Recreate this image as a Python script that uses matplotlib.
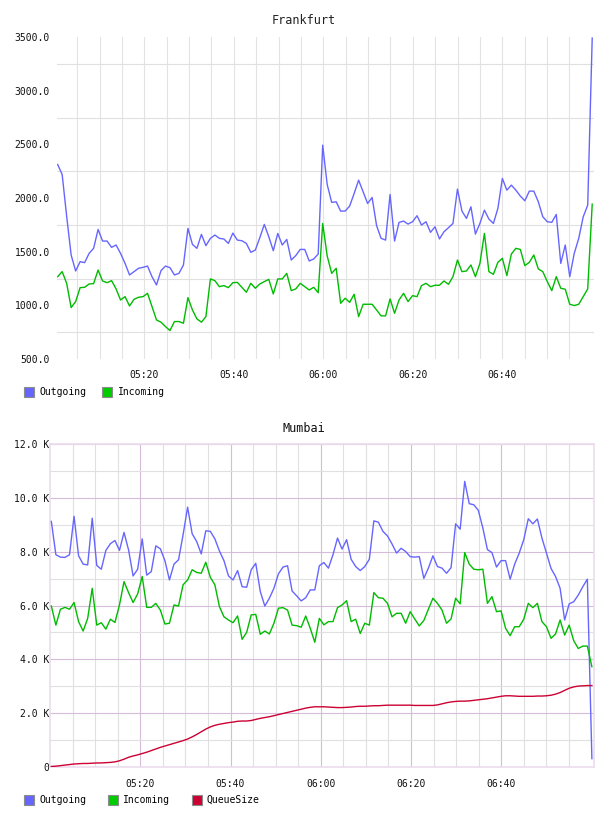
import numpy as np
import matplotlib
matplotlib.use("Agg")
import matplotlib.pyplot as plt
from matplotlib.ticker import FixedLocator, FuncFormatter
from matplotlib.lines import Line2D

# ---------------- data ----------------
series_names = ["Outgoing", "Incoming", "QueueSize"]
time_ticks = [20, 40, 60, 80, 100]          # minutes after 05:00
time_labels = ["05:20", "05:40", "06:00", "06:20", "06:40"]

fra_first_min, fra_last_min = 0.65, 120.1
fra_out = [2312, 2219, 1830, 1469, 1320, 1407, 1398, 1484, 1531, 1707, 1599, 1599, 1540, 1562, 1484,
           1391, 1283, 1314, 1345, 1354, 1366, 1267, 1190, 1323, 1366, 1351, 1283, 1298, 1376, 1717,
           1568, 1531, 1661, 1556, 1624, 1655, 1624, 1618, 1577, 1673, 1608, 1602, 1577, 1494, 1515,
           1630, 1754, 1639, 1509, 1670, 1562, 1614, 1422, 1463, 1521, 1521, 1413, 1432, 1478, 2492,
           2126, 1959, 1965, 1878, 1878, 1925, 2042, 2166, 2058, 1949, 2005, 1742, 1624, 1608, 2033,
           1599, 1773, 1785, 1757, 1779, 1835, 1748, 1779, 1680, 1732, 1618, 1686, 1723, 1763, 2083,
           1878, 1810, 1918, 1664, 1763, 1887, 1804, 1763, 1903, 2182, 2073, 2120, 2073, 2018, 1974,
           2064, 2064, 1965, 1825, 1779, 1773, 1847, 1391, 1562, 1267, 1484, 1624, 1825, 1934, 3490]
fra_in = [1267, 1314, 1205, 979, 1035, 1165, 1168, 1199, 1202, 1329, 1227, 1211, 1230, 1153, 1050,
          1081, 994, 1056, 1075, 1081, 1112, 988, 864, 843, 802, 765, 849, 849, 833, 1072,
          957, 874, 843, 895, 1246, 1230, 1174, 1184, 1165, 1211, 1214, 1168, 1122, 1205, 1159,
          1199, 1221, 1242, 1106, 1246, 1246, 1298, 1137, 1153, 1205, 1174, 1143, 1168, 1118, 1763,
          1460, 1298, 1345, 1019, 1066, 1028, 1103, 895, 1010, 1010, 1010, 957, 902, 902, 1060,
          926, 1050, 1112, 1035, 1090, 1081, 1184, 1205, 1174, 1187, 1187, 1227, 1196, 1267, 1422,
          1314, 1320, 1376, 1267, 1391, 1670, 1314, 1289, 1401, 1438, 1277, 1478, 1531, 1521, 1370,
          1401, 1469, 1339, 1314, 1221, 1137, 1267, 1159, 1150, 1010, 998, 1010, 1081, 1153, 1943]

mum_first_min, mum_last_min = 0.28, 120.1
mum_out_k = [9.13, 7.89, 7.80, 7.79, 7.89, 9.32, 7.85, 7.54, 7.51, 9.25, 7.49, 7.35, 8.05, 8.30, 8.42,
             8.05, 8.72, 8.07, 7.10, 7.35, 8.48, 7.13, 7.26, 8.22, 8.11, 7.67, 6.95, 7.54, 7.70, 8.63,
             9.66, 8.67, 8.38, 7.92, 8.78, 8.76, 8.48, 8.03, 7.67, 7.10, 6.95, 7.30, 6.70, 6.68, 7.33,
             7.57, 6.52, 5.98, 6.27, 6.64, 7.18, 7.43, 7.48, 6.54, 6.36, 6.17, 6.29, 6.58, 6.58, 7.48,
             7.60, 7.39, 7.89, 8.51, 8.10, 8.45, 7.72, 7.45, 7.30, 7.45, 7.72, 9.15, 9.10, 8.76, 8.59,
             8.29, 7.95, 8.13, 8.01, 7.82, 7.80, 7.82, 7.01, 7.39, 7.85, 7.45, 7.39, 7.20, 7.41, 9.04,
             8.84, 10.62, 9.79, 9.75, 9.54, 8.88, 8.08, 7.97, 7.43, 7.67, 7.67, 6.98, 7.54, 7.95, 8.45,
             9.23, 9.04, 9.22, 8.51, 7.95, 7.38, 7.08, 6.64, 5.46, 6.06, 6.14, 6.39, 6.70, 6.98, 0.30]
mum_in_k = [5.98, 5.27, 5.86, 5.93, 5.86, 6.11, 5.40, 5.05, 5.52, 6.64, 5.27, 5.36, 5.12, 5.49, 5.37,
            6.02, 6.89, 6.48, 6.11, 6.43, 7.08, 5.93, 5.93, 6.08, 5.83, 5.31, 5.34, 6.02, 5.98, 6.77,
            6.95, 7.33, 7.23, 7.20, 7.61, 7.05, 6.77, 5.96, 5.58, 5.46, 5.36, 5.61, 4.74, 5.00, 5.65,
            5.67, 4.93, 5.05, 4.94, 5.34, 5.90, 5.92, 5.83, 5.27, 5.25, 5.19, 5.61, 5.15, 4.63, 5.52,
            5.28, 5.40, 5.40, 5.92, 6.02, 6.18, 5.40, 5.49, 4.96, 5.34, 5.27, 6.48, 6.29, 6.27, 6.08,
            5.58, 5.71, 5.71, 5.34, 5.77, 5.50, 5.24, 5.44, 5.86, 6.27, 6.08, 5.83, 5.34, 5.50, 6.27,
            6.06, 7.97, 7.54, 7.35, 7.33, 7.35, 6.08, 6.33, 5.77, 5.80, 5.15, 4.88, 5.21, 5.21, 5.49,
            6.08, 5.92, 6.08, 5.40, 5.21, 4.78, 4.94, 5.46, 4.90, 5.27, 4.69, 4.40, 4.49, 4.49, 3.72]
mum_queue_k = [0.01, 0.02, 0.04, 0.06, 0.08, 0.10, 0.11, 0.12, 0.12, 0.13, 0.14, 0.14, 0.15, 0.16, 0.18,
               0.22, 0.28, 0.35, 0.40, 0.44, 0.49, 0.54, 0.60, 0.66, 0.72, 0.77, 0.82, 0.87, 0.92, 0.97,
               1.03, 1.11, 1.20, 1.30, 1.40, 1.48, 1.54, 1.58, 1.61, 1.64, 1.66, 1.69, 1.70, 1.70, 1.72,
               1.76, 1.80, 1.83, 1.86, 1.90, 1.94, 1.98, 2.02, 2.06, 2.10, 2.14, 2.18, 2.21, 2.23, 2.23,
               2.23, 2.22, 2.21, 2.20, 2.20, 2.21, 2.22, 2.24, 2.25, 2.25, 2.26, 2.27, 2.27, 2.28, 2.29,
               2.29, 2.29, 2.29, 2.29, 2.29, 2.28, 2.28, 2.28, 2.28, 2.28, 2.30, 2.34, 2.38, 2.41, 2.43,
               2.44, 2.44, 2.45, 2.47, 2.49, 2.51, 2.53, 2.56, 2.59, 2.62, 2.64, 2.64, 2.63, 2.62, 2.62,
               2.62, 2.62, 2.63, 2.63, 2.64, 2.66, 2.70, 2.76, 2.84, 2.92, 2.97, 3.00, 3.01, 3.02, 3.02]

# ---------------- style ----------------
C_OUT, C_IN, C_Q = "#6666ff", "#00bb00", "#cc0033"
L_OUT, L_IN, L_Q = "#6666ff", "#00cc00", "#cc0033"
MONO = ["DejaVu Sans Mono"]
plt.rcParams["font.family"] = MONO
W, H = 608, 816

fig = plt.figure(figsize=(W / 100, H / 100), dpi=100)

def fpos(l, t, r, b):
    return [l / W, 1 - b / H, (r - l) / W, (b - t) / H]

# ---------- Frankfurt ----------
ax1 = fig.add_axes(fpos(57, 37, 594, 359))
t_f = np.linspace(fra_first_min, fra_last_min, len(fra_out))
ax1.plot(t_f, fra_out, color=C_OUT, lw=1.0, zorder=3)
ax1.plot(t_f, fra_in, color=C_IN, lw=1.0, zorder=4)
ax1.set_xlim(0.5, 120.5)
ax1.set_ylim(500, 3500)
ax1.set_yticks(np.arange(500, 3501, 500))
ax1.yaxis.set_major_formatter(FuncFormatter(lambda v, p: f"{v:.1f}"))
ax1.yaxis.set_minor_locator(FixedLocator(np.arange(750, 3500, 500)))
ax1.set_xticks(time_ticks)
ax1.set_xticklabels(time_labels)
ax1.xaxis.set_minor_locator(FixedLocator(np.arange(5, 120, 5)))
ax1.grid(False)
ax1.grid(True, which="minor", axis="y", color="#e0e0e0", lw=0.8)
ax1.grid(True, which="both", axis="x", color="#e3e3e3", lw=0.8)
for s in ax1.spines.values():
    s.set_visible(False)
ax1.tick_params(axis="both", which="both", length=0, labelsize=7, colors="#111111")
ax1.tick_params(axis="y", pad=5)
ax1.tick_params(axis="x", pad=8)
ax1.set_axisbelow(True)
fig.text(0.5, 1 - 20 / H, "Frankfurt", ha="center", va="center", fontsize=8.5, color="#222222")

def handle(c):
    return Line2D([], [], marker="s", markersize=7.2, linestyle="none",
                  markerfacecolor=c, markeredgecolor="#8c8c8c", markeredgewidth=0.8)

fig.legend([handle(L_OUT), handle(L_IN)], series_names[:2], loc="center left",
           bbox_to_anchor=(24 / W, 1 - 392 / H), ncol=2, frameon=False, fontsize=7,
           borderpad=0, borderaxespad=0, handlelength=1.0, handletextpad=0.55,
           columnspacing=1.7)

# ---------- Mumbai ----------
ax2 = fig.add_axes(fpos(50.3, 444.3, 593.7, 766.7))
t_m = np.linspace(mum_first_min, mum_last_min, len(mum_out_k))
ax2.plot(t_m, np.array(mum_out_k) * 1000, color=C_OUT, lw=1.0, zorder=3)
ax2.plot(t_m, np.array(mum_in_k) * 1000, color=C_IN, lw=1.0, zorder=4)
ax2.plot(t_m, np.array(mum_queue_k) * 1000, color=C_Q, lw=1.0, zorder=5)
ax2.set_xlim(0.05, 120.5)
ax2.set_ylim(0, 12000)
ax2.set_yticks(np.arange(0, 12001, 2000))
ax2.yaxis.set_major_formatter(FuncFormatter(lambda v, p: "0" if v == 0 else f"{v / 1000:.1f} K"))
ax2.yaxis.set_minor_locator(FixedLocator(np.arange(1000, 12000, 2000)))
ax2.set_xticks(time_ticks)
ax2.set_xticklabels(time_labels)
ax2.xaxis.set_minor_locator(FixedLocator([m for m in range(5, 120, 5) if m % 20 != 0]))
ax2.grid(True, which="major", color="#d6bcda", lw=0.8)
ax2.grid(True, which="minor", color="#e0e0e0", lw=0.8)
for s in ax2.spines.values():
    s.set_color("#ecdcee")
    s.set_linewidth(1.2)
ax2.tick_params(axis="both", which="both", length=0, labelsize=7, colors="#111111")
ax2.tick_params(axis="y", pad=1)
ax2.tick_params(axis="x", pad=9)
ax2.set_axisbelow(True)
fig.text(0.5, 1 - 429 / H, "Mumbai", ha="center", va="center", fontsize=8.5, color="#111111")

fig.legend([handle(L_OUT), handle(L_IN), handle(L_Q)], series_names, loc="center left",
           bbox_to_anchor=(24 / W, 1 - 800 / H), ncol=3, frameon=False, fontsize=7,
           borderpad=0, borderaxespad=0, handlelength=1.0, handletextpad=0.55,
           columnspacing=2.25)

fig.savefig("out.png", dpi=100)
